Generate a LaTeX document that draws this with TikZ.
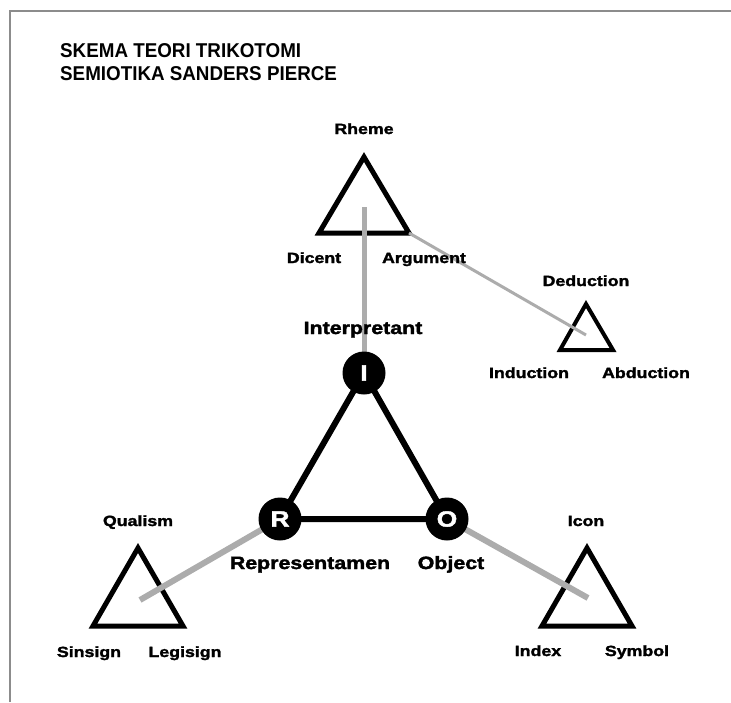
\documentclass[tikz,border=0pt]{standalone}
\usepackage{fontspec}
\newfontfamily\ttlfont[FakeStretch=0.94]{Liberation Sans}
\newfontfamily\lblfont[FakeStretch=1.2,FakeBold=2]{Liberation Sans}
\definecolor{graybar}{RGB}{172,172,172}
\definecolor{framegray}{RGB}{140,140,140}
\begin{document}
\begin{tikzpicture}[x=1pt,y=-1pt,
  tri/.style={draw=black, line width=5pt, line join=miter},
  smalltri/.style={draw=black, line width=4pt, line join=miter},
  ray/.style={draw=graybar, line width=6pt},
  thinray/.style={draw=graybar, line width=3pt},
  edge/.style={draw=black, line width=6pt},
  lbl/.style={font=\lblfont\bfseries\fontsize{14.8}{16}\selectfont, anchor=base, inner sep=0pt},
  biglbl/.style={font=\lblfont\bfseries\fontsize{17.8}{20}\selectfont, anchor=base, inner sep=0pt},
  titletext/.style={font=\ttlfont\bfseries\fontsize{20}{22}\selectfont, anchor=base west, inner sep=0pt},
  vertex/.style={circle, fill=black, minimum size=43pt, inner sep=0pt, text=white,
    font=\lblfont\bfseries\fontsize{22}{24}\selectfont}
]
\useasboundingbox (0,0) rectangle (731,702);
% frame
\draw[framegray, line width=1.4pt] (10,702) -- (10,11) -- (731,11);
% title
\node[titletext] (t1) at (60,57) {SKEMA TEORI TRIKOTOMI};
\node[titletext] (t2) at (60,80) {SEMIOTIKA SANDERS PIERCE};

% triangle corners
\coordinate (rA) at (364,157); \coordinate (rL) at (319,233); \coordinate (rR) at (409,233);
\coordinate (dA) at (586,304); \coordinate (dL) at (560,350); \coordinate (dR) at (613,350);
\coordinate (qA) at (138,548); \coordinate (qL) at (93,626); \coordinate (qR) at (183,626);
\coordinate (cA) at (587,548); \coordinate (cL) at (542,626); \coordinate (cR) at (632,626);
% ends of gray connectors
\coordinate (rEnd) at (364,207);
\coordinate (dEnd) at (586,335);
\coordinate (qEnd) at (140,600);
\coordinate (cEnd) at (588,598);

% small triangles
\draw[tri] (rA) -- (rL) -- (rR) -- cycle;
\draw[smalltri] (dA) -- (dL) -- (dR) -- cycle;
\draw[tri] (qA) -- (qL) -- (qR) -- cycle;
\draw[tri] (cA) -- (cL) -- (cR) -- cycle;

% main vertices (positions)
\coordinate (Ic) at (364,373);
\coordinate (Rc) at (280,519);
\coordinate (Oc) at (447,519);

% gray connectors
\draw[ray, line width=5pt] (rEnd) -- (Ic);
\draw[thinray] (rR) -- (dEnd);
\draw[ray] (Rc) -- (qEnd);
\draw[ray] (Oc) -- (cEnd);

% main triangle edges
\draw[edge] (Ic) -- (Rc) -- (Oc) -- cycle;

% vertex nodes
\node[vertex] (I) at (Ic) {I};
\node[vertex] (R) at (Rc) {R};
\node[vertex] (O) at (Oc) {O};

% labels
\node[lbl] (rheme) at (364,134) {Rheme};
\node[lbl] (dicent) at (314,263) {Dicent};
\node[lbl] (argument) at (424,263) {Argument};
\node[lbl] (deduction) at (586,286) {Deduction};
\node[lbl] (induction) at (529,378) {Induction};
\node[lbl] (abduction) at (646,378) {Abduction};
\node[biglbl] (interpretant) at (363,334) {Interpretant};
\node[biglbl] (representamen) at (310,569) {Representamen};
\node[biglbl] (object) at (451,569) {Object};
\node[lbl] (qualism) at (138,526) {Qualism};
\node[lbl] (sinsign) at (89,657) {Sinsign};
\node[lbl] (legisign) at (185,657) {Legisign};
\node[lbl] (icon) at (586,526) {Icon};
\node[lbl] (index) at (538,656) {Index};
\node[lbl] (symbol) at (637,656) {Symbol};
\end{tikzpicture}
\end{document}
